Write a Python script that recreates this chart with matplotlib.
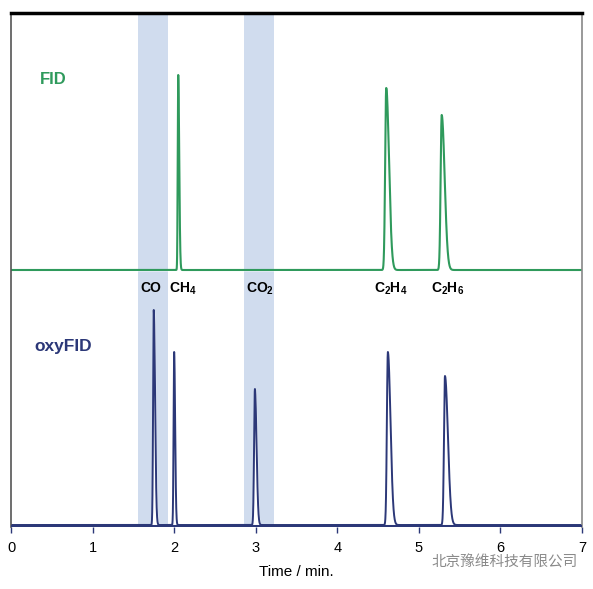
import numpy as np
import matplotlib
matplotlib.use("Agg")
import matplotlib.pyplot as plt
from matplotlib import font_manager

# fonts: condensed look if available
names = {f.name for f in font_manager.fontManager.ttflist}
NARROW = "Liberation Sans Narrow" if "Liberation Sans Narrow" in names else "Liberation Sans"
plt.rcParams["font.family"] = [NARROW, "DejaVu Sans"]

# ---- data (time in min, heights in arbitrary units) ----
fid_times = [2.05, 4.60, 5.28]
fid_heights = [195, 182, 155]
fid_sig_left = [0.006, 0.013, 0.013]
fid_sig_right = [0.012, 0.034, 0.036]

oxy_times = [1.75, 2.00, 2.99, 4.62, 5.32]
oxy_heights = [215, 173, 136, 173, 149]
oxy_sig_left = [0.008, 0.007, 0.010, 0.012, 0.012]
oxy_sig_right = [0.016, 0.012, 0.020, 0.032, 0.036]

fid_baseline = 257
oxy_baseline = 2

bands = [(1.555, 1.925), (2.855, 3.22)]

peak_labels = [r"CO", r"CH$_4$", r"CO$_2$", r"C$_2$H$_4$", r"C$_2$H$_6$"]
peak_label_x = [1.72, 2.10, 3.05, 4.65, 5.35]

xticks = [0, 1, 2, 3, 4, 5, 6, 7]

GREEN = "#2f9a5c"
NAVY = "#2c3878"
BAND = "#d0dcee"


def trace(t, times, heights, sl, sr, base):
    y = np.full_like(t, float(base))
    for mu, h, a, b in zip(times, heights, sl, sr):
        s = np.where(t < mu, a, b)
        y += h * np.exp(-0.5 * ((t - mu) / s) ** 2)
    return y


plt.rcParams["mathtext.fontset"] = "custom"
plt.rcParams["mathtext.rm"] = NARROW + ":bold"
plt.rcParams["mathtext.it"] = NARROW + ":bold"

fig = plt.figure(figsize=(5.93, 5.89), dpi=100)
ax = fig.add_axes([11 / 593, 62 / 589, 571 / 593, 514 / 589])

t = np.linspace(0, 7, 7001)
y_fid = trace(t, fid_times, fid_heights, fid_sig_left, fid_sig_right, fid_baseline)
y_oxy = trace(t, oxy_times, oxy_heights, oxy_sig_left, oxy_sig_right, oxy_baseline)

for a, b in bands:
    ax.axvspan(a, b, color=BAND, lw=0, zorder=0)

ax.fill_between(t, fid_baseline, y_fid, color="white", zorder=1)
ax.fill_between(t, oxy_baseline, y_oxy, color="white", zorder=1)
ax.plot(t, y_fid, color=GREEN, lw=1.5, zorder=2)
ax.plot(t, y_oxy, color=NAVY, lw=1.4, zorder=2)
ax.axhline(oxy_baseline - 1, color=NAVY, lw=2.2, zorder=3)

for lab, x in zip(peak_labels, peak_label_x):
    ax.text(x, fid_baseline - 11, lab, ha="center", va="top", fontsize=10,
            fontweight="bold", color="black", zorder=4)

ax.text(0.52, 447, "FID", ha="center", va="center", fontsize=12,
        fontweight="bold", color=GREEN)
ax.text(0.64, 180, "oxyFID", ha="center", va="center", fontsize=12.5,
        fontweight="heavy", color=NAVY)

ax.set_xlim(0, 7)
ax.set_ylim(0, 514)
ax.set_xticks(xticks)
ax.set_xticklabels([str(v) for v in xticks], fontsize=10.5)
ax.set_yticks([])
ax.tick_params(axis="x", direction="out", length=4, width=1, color=NAVY, pad=6)
ax.set_xlabel("Time / min.", fontsize=11, labelpad=7)

ax.spines["top"].set_linewidth(2.5)
ax.spines["top"].set_color("black")
ax.spines["left"].set_color("#555555")
ax.spines["left"].set_linewidth(1.2)
ax.spines["right"].set_color("#888888")
ax.spines["right"].set_linewidth(1.2)
ax.spines["bottom"].set_visible(False)

fig.text(505 / 593, 1 - 563 / 589, "北京豫维科技有限公司", ha="center", va="center",
         fontsize=10.5, color="#8a8a8a", family=["Noto Sans CJK SC", "DejaVu Sans"])

fig.savefig("out.png", dpi=100)
